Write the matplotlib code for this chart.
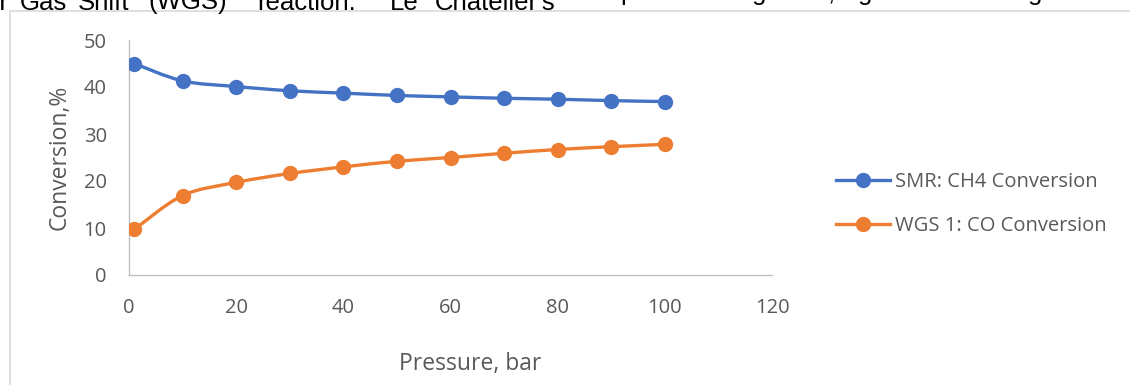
import matplotlib
matplotlib.use("Agg")
import matplotlib.pyplot as plt
from matplotlib.path import Path
from matplotlib.patches import PathPatch, Rectangle
import numpy as np

pressure = [1, 10, 20, 30, 40, 50, 60, 70, 80, 90, 100]
smr_ch4 = [45.0, 41.3, 40.1, 39.2, 38.7, 38.2, 37.9, 37.6, 37.4, 37.1, 36.9]
wgs_co = [9.7, 16.9, 19.7, 21.6, 23.0, 24.2, 25.0, 25.9, 26.7, 27.3, 27.8]
series_names = ["SMR: CH4 Conversion", "WGS 1: CO Conversion"]
colors = ["#4472C4", "#ED7D31"]
xticks = [0, 20, 40, 60, 80, 100, 120]
yticks = [0, 10, 20, 30, 40, 50]

W, H = 1130, 385
fig = plt.figure(figsize=(W / 100, H / 100), dpi=100)
plt.rcParams['font.family'] = ['Open Sans', 'DejaVu Sans']
txt = "#595959"

# outer chart frame
fig.patches.append(Rectangle((9.5 / W, -0.1), 1.2, (H - 11.0) / H + 0.1,
                             transform=fig.transFigure, fill=False,
                             edgecolor="#d9d9d9", linewidth=1.2))

# cut-off line of document text above the chart
top_words = [(-14, "er"), (20, "Gas"), (78, "Shift"), (148, "(WGS)"),
             (257, "reaction."), (390, "Le"), (435, "Chatelier's")]
for xp, w in top_words:
    fig.text(xp / W, 1 - 9.5 / H, w, fontsize=18.5, family="Liberation Sans",
             color="black", va="baseline", ha="left")
for xp, w in [(620, "p"), (752, "g"), (828, ","), (858, "g"), (1028, "g")]:
    fig.text(xp / W, 1 - 0 / H, w, fontsize=18.5, family="Liberation Sans",
             color="black", va="baseline", ha="left")

x0, x1, y0, y1 = 129, 772, 275, 40
ax = fig.add_axes([x0 / W, 1 - y0 / H, (x1 - x0) / W, (y0 - y1) / H])
ax.set_xlim(0, 120)
ax.set_ylim(0, 50)
ax.set_xticks(xticks)
ax.set_yticks(yticks)
for s in ["top", "right"]:
    ax.spines[s].set_visible(False)
for s in ["left", "bottom"]:
    ax.spines[s].set_color("#bfbfbf")
    ax.spines[s].set_linewidth(1.0)
ax.tick_params(length=0, labelsize=14.5, labelcolor=txt)
ax.tick_params(axis="x", pad=16.5)
ax.tick_params(axis="y", pad=16)
ax.patch.set_alpha(0)


def smooth_path(xs, ys):
    pts = np.column_stack([xs, ys]).astype(float)
    n = len(pts)
    verts = [pts[0]]
    codes = [Path.MOVETO]
    for i in range(n - 1):
        p0 = pts[i - 1] if i > 0 else pts[i]
        p1 = pts[i]
        p2 = pts[i + 1]
        p3 = pts[i + 2] if i + 2 < n else pts[i + 1]
        c1 = p1 + (p2 - p0) / 6.0
        c2 = p2 - (p3 - p1) / 6.0
        verts += [c1, c2, p2]
        codes += [Path.CURVE4] * 3
    return Path(verts, codes)


handles = []
for ys, c, name in zip([smr_ch4, wgs_co], colors, series_names):
    ax.add_patch(PathPatch(smooth_path(pressure, ys), facecolor="none",
                           edgecolor=c, linewidth=2.4, zorder=2))
    ax.plot(pressure, ys, linestyle="none", marker="o", markersize=10,
            color=c, zorder=3)
    h, = ax.plot([], [], color=c, linewidth=2.4, marker="o", markersize=10,
                 label=name)
    handles.append(h)

ax.set_ylabel("Conversion,%", fontsize=16.5, color=txt)
ax.yaxis.set_label_coords(-(129 - 72) / (x1 - x0), 0.5)
ax.set_xlabel("Pressure, bar", fontsize=16.5, color=txt)
ax.xaxis.set_label_coords((470.5 - x0) / (x1 - x0), -(352 - 275) / (y0 - y1))

leg = ax.legend(handles=handles, loc="upper left",
                bbox_to_anchor=(836 / W, 1 - 172 / H), bbox_transform=fig.transFigure,
                frameon=False, fontsize=14.5, handlelength=2.69, handletextpad=0.25,
                labelspacing=1.2, borderpad=0, borderaxespad=0)
for t in leg.get_texts():
    t.set_color(txt)

fig.savefig("out.png", dpi=100)
